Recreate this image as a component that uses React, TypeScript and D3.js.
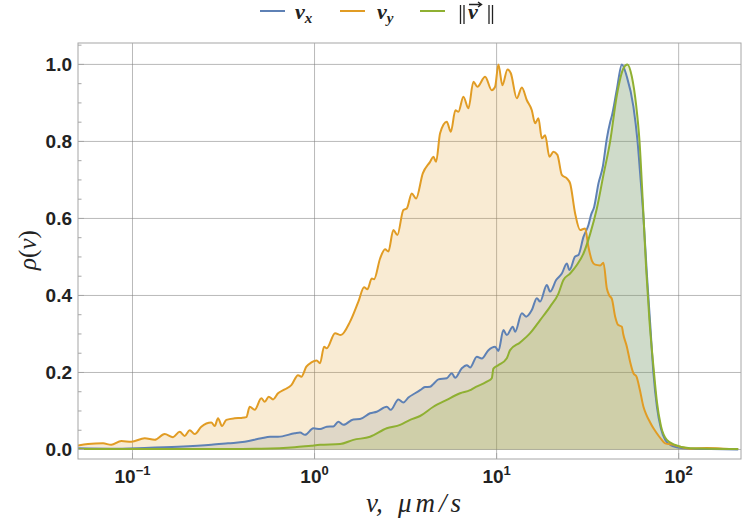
import React from "react";
import * as d3 from "d3";

// Normalised speed distributions ρ(v), v in μm/s (log axis)
const vxV = [0.0502, 0.0764, 0.1167, 0.1778, 0.271, 0.3347, 0.4135, 0.5101, 0.5695, 0.6301, 0.7783, 0.8324, 0.8868, 0.9849, 1.072, 1.167, 1.268, 1.351, 1.439, 1.634, 1.778, 2.018, 2.196, 2.493, 2.622, 2.887, 3.075, 3.277, 3.566, 3.799, 4.047, 4.312, 4.496, 4.787, 5.326, 5.674, 5.916, 6.439, 6.86, 7.152, 7.784, 8.293, 9.016, 9.813, 10.23, 10.9, 11.38, 12.27, 12.64, 13.76, 14.53, 15.61, 16.63, 17.34, 18.87, 19.68, 21.23, 22.82, 24.31, 25.12, 27.0, 28.15, 30.0, 31.95, 33.05, 34.34, 36.26, 38.33, 40.33, 42.04, 42.96, 45.76, 48.75, 51.93, 56.45, 59.37, 61.43, 64.06, 66.87, 69.72, 72.7, 76.0, 79.85, 84.31, 90.0, 97.75, 115.7, 150.0, 212.3];
const vxRho = [0.003, 0.002, 0.004, 0.007, 0.012, 0.016, 0.02, 0.029, 0.033, 0.033, 0.042, 0.044, 0.038, 0.055, 0.053, 0.059, 0.06, 0.072, 0.064, 0.078, 0.079, 0.094, 0.098, 0.111, 0.103, 0.13, 0.122, 0.135, 0.146, 0.154, 0.162, 0.163, 0.17, 0.182, 0.185, 0.198, 0.186, 0.211, 0.219, 0.213, 0.241, 0.236, 0.258, 0.267, 0.256, 0.31, 0.297, 0.319, 0.306, 0.354, 0.345, 0.362, 0.393, 0.384, 0.427, 0.41, 0.44, 0.457, 0.483, 0.466, 0.501, 0.505, 0.552, 0.583, 0.61, 0.63, 0.691, 0.735, 0.808, 0.85, 0.866, 0.935, 1.0, 0.968, 0.89, 0.803, 0.717, 0.604, 0.457, 0.328, 0.198, 0.11, 0.055, 0.025, 0.012, 0.006, 0.002, 0.001, 0.0];

const vyV = [0.0502, 0.0569, 0.0689, 0.0764, 0.0868, 0.0985, 0.1167, 0.1324, 0.1502, 0.1669, 0.1817, 0.1936, 0.2062, 0.2197, 0.2388, 0.271, 0.2829, 0.295, 0.3102, 0.3277, 0.3642, 0.3961, 0.422, 0.4406, 0.4692, 0.5101, 0.5325, 0.5603, 0.5916, 0.6301, 0.6858, 0.7457, 0.8116, 0.8462, 0.9014, 0.9603, 1.028, 1.072, 1.128, 1.167, 1.296, 1.393, 1.567, 1.741, 1.871, 1.951, 2.062, 2.123, 2.291, 2.44, 2.544, 2.71, 2.851, 3.075, 3.211, 3.42, 3.612, 3.932, 4.312, 4.496, 4.652, 4.893, 5.326, 5.603, 5.938, 6.168, 6.572, 7.0, 7.458, 7.845, 8.647, 9.41, 9.813, 10.23, 10.76, 11.47, 11.97, 12.91, 13.76, 14.66, 15.61, 16.27, 16.97, 17.72, 18.48, 19.51, 20.52, 21.58, 22.82, 24.31, 25.34, 27.0, 28.76, 30.64, 31.95, 33.4, 34.77, 37.05, 38.63, 40.33, 41.6, 42.96, 44.8, 46.6, 48.75, 49.6, 51.93, 54.1, 56.45, 58.6, 61.2, 64.06, 66.5, 69.4, 72.7, 75.9, 79.2, 84.31, 93.63, 101.9, 115.7, 142.9, 175.6, 212.3];
const vyRho = [0.01, 0.014, 0.016, 0.012, 0.022, 0.02, 0.029, 0.025, 0.04, 0.032, 0.046, 0.035, 0.05, 0.04, 0.059, 0.07, 0.061, 0.081, 0.061, 0.077, 0.081, 0.082, 0.084, 0.111, 0.103, 0.133, 0.124, 0.137, 0.13, 0.146, 0.156, 0.167, 0.193, 0.189, 0.215, 0.226, 0.231, 0.224, 0.267, 0.263, 0.302, 0.297, 0.332, 0.384, 0.421, 0.416, 0.444, 0.442, 0.496, 0.52, 0.514, 0.57, 0.557, 0.622, 0.626, 0.665, 0.652, 0.717, 0.747, 0.76, 0.747, 0.821, 0.851, 0.825, 0.881, 0.877, 0.916, 0.886, 0.955, 0.942, 0.968, 0.933, 0.942, 1.0, 0.946, 0.987, 0.977, 0.912, 0.94, 0.907, 0.881, 0.847, 0.86, 0.808, 0.816, 0.76, 0.773, 0.765, 0.713, 0.704, 0.691, 0.613, 0.57, 0.574, 0.526, 0.49, 0.48, 0.478, 0.485, 0.418, 0.4, 0.391, 0.345, 0.323, 0.319, 0.3, 0.267, 0.228, 0.198, 0.19, 0.155, 0.111, 0.09, 0.072, 0.055, 0.042, 0.03, 0.016, 0.012, 0.007, 0.002, 0.004, 0.002, 0.001];

const vnV = [0.0502, 0.1778, 0.3347, 0.5101, 0.7783, 0.9603, 1.072, 1.381, 1.634, 2.018, 2.493, 2.95, 3.348, 3.799, 4.496, 5.326, 6.302, 7.152, 7.458, 8.835, 9.41, 9.603, 10.23, 11.38, 11.86, 13.46, 15.28, 17.34, 19.68, 21.86, 23.28, 25.34, 27.59, 30.0, 32.65, 35.53, 38.63, 42.04, 45.76, 49.75, 52.33, 55.33, 58.41, 60.9, 63.58, 66.28, 69.11, 72.7, 75.9, 79.85, 86.13, 95.68, 115.7, 212.3];
const vnRho = [0.001, 0.001, 0.001, 0.002, 0.006, 0.01, 0.012, 0.014, 0.025, 0.033, 0.055, 0.064, 0.077, 0.087, 0.111, 0.129, 0.146, 0.154, 0.159, 0.176, 0.185, 0.21, 0.219, 0.237, 0.258, 0.278, 0.302, 0.336, 0.371, 0.405, 0.44, 0.457, 0.479, 0.509, 0.56, 0.626, 0.713, 0.8, 0.92, 0.99, 1.0, 0.968, 0.894, 0.803, 0.64, 0.47, 0.335, 0.215, 0.125, 0.062, 0.025, 0.012, 0.003, 0.001];

const yTicks = [0, 0.2, 0.4, 0.6, 0.8, 1.0];
const yMinor = [0.05, 0.1, 0.15, 0.25, 0.3, 0.35, 0.45, 0.5, 0.55, 0.65, 0.7, 0.75, 0.85, 0.9, 0.95, 1.05];
const xTicks = [0.1, 1, 10, 100];
const xExp = ["\u22121", "0", "1", "2"];

const C_VX = "#5E81B5";
const C_VY = "#E19C24";
const C_VN = "#8FB032";

const L = 78, R = 741, T = 43, B = 459;

export default function App() {
  const x = d3.scaleLog().domain([0.0502, 220]).range([L, R]);
  const y = d3.scaleLinear().domain([-0.0247, 1.0556]).range([B, T]);

  const series = [
    { v: vxV, r: vxRho, c: C_VX },
    { v: vyV, r: vyRho, c: C_VY },
    { v: vnV, r: vnRho, c: C_VN },
  ];

  const line = d3
    .line<[number, number]>()
    .x((d) => x(d[0]))
    .y((d) => y(d[1]))
    .curve(d3.curveMonotoneX);
  const area = d3
    .area<[number, number]>()
    .x((d) => x(d[0]))
    .y0(y(0))
    .y1((d) => y(d[1]))
    .curve(d3.curveMonotoneX);

  const pts = series.map((s) => s.v.map((v, i) => [v, s.r[i]] as [number, number]));

  const sans = "'Liberation Sans', Arial, sans-serif";
  const serif = "'Liberation Serif', 'Times New Roman', serif";

  return (
    <svg width={745} height={524} style={{ position: "absolute", left: 0, top: 0, background: "#fff" }}>
      <defs>
        <clipPath id="plotClip">
          <rect x={L} y={T} width={R - L} height={B - T} />
        </clipPath>
      </defs>
      {/* grid */}
      {yTicks.map((t) => (
        <line key={"gy" + t} x1={L} x2={R} y1={y(t)} y2={y(t)} stroke="#808080" strokeOpacity={0.55} strokeWidth={1} />
      ))}
      {xTicks.map((t) => (
        <line key={"gx" + t} x1={x(t)} x2={x(t)} y1={T} y2={B} stroke="#808080" strokeOpacity={0.55} strokeWidth={1} />
      ))}
      {/* filled curves */}
      <g clipPath="url(#plotClip)">
        {pts.map((p, i) => (
          <path key={"a" + i} d={area(p) || ""} fill={series[i].c} fillOpacity={0.2} stroke="none" />
        ))}
        {pts.map((p, i) => (
          <path key={"l" + i} d={line(p) || ""} fill="none" stroke={series[i].c} strokeWidth={2} strokeLinejoin="round" />
        ))}
      </g>
      {/* frame */}
      <rect x={L} y={T} width={R - L} height={B - T} fill="none" stroke="#a6a6a6" strokeWidth={1} />
      {/* y ticks */}
      {yTicks.map((t) => (
        <line key={"ty" + t} x1={L} x2={L + 6} y1={y(t)} y2={y(t)} stroke="#a6a6a6" />
      ))}
      {yMinor.map((t) => (
        <line key={"my" + t} x1={L} x2={L + 3.5} y1={y(t)} y2={y(t)} stroke="#a6a6a6" />
      ))}
      {xTicks.map((t) => (
        <line key={"tx" + t} x1={x(t)} x2={x(t)} y1={B} y2={B - 6} stroke="#a6a6a6" />
      ))}
      {/* y tick labels */}
      {yTicks.map((t) => (
        <text key={"yl" + t} x={72} y={y(t) + 6.8} textAnchor="end" fontFamily={sans} fontWeight="bold" fontSize={19} fill="#222">
          {t.toFixed(1)}
        </text>
      ))}
      {/* x tick labels */}
      {xTicks.map((t, i) => (
        <text key={"xl" + t} x={x(t)} y={483} textAnchor="middle" fontFamily={sans} fontWeight="bold" fontSize={19} fill="#222">
          10
          <tspan dy={-8} fontSize={13}>
            {xExp[i]}
          </tspan>
        </text>
      ))}
      {/* axis titles */}
      <text transform="translate(36,250) rotate(-90)" textAnchor="middle" fontFamily={serif} fontSize={25} fill="#222">
        <tspan fontStyle="italic">ρ</tspan>
        <tspan>(</tspan>
        <tspan fontStyle="italic">v</tspan>
        <tspan>)</tspan>
      </text>
      <text x={366} y={512} fontFamily={serif} fontStyle="italic" fontSize={27} fill="#222">
        <tspan>v,</tspan>
        <tspan x={398} letterSpacing={4}>μm/s</tspan>
      </text>
      {/* legend */}
      <g>
        <line x1={260} x2={285} y1={11} y2={11} stroke={C_VX} strokeWidth={2} />
        <text x={295} y={19} fontFamily={serif} fontStyle="italic" fontWeight="bold" fontSize={22} fill="#222">
          v<tspan fontSize={15} dy={4}>x</tspan>
        </text>
        <line x1={340} x2={365} y1={11} y2={11} stroke={C_VY} strokeWidth={2} />
        <text x={377} y={19} fontFamily={serif} fontStyle="italic" fontWeight="bold" fontSize={22} fill="#222">
          v<tspan fontSize={15} dy={4}>y</tspan>
        </text>
        <line x1={420} x2={445} y1={11} y2={11} stroke={C_VN} strokeWidth={2} />
        <path d="M460.5,5 V24 M464,5 V24 M489,5 V24 M492.5,5 V24" fill="none" stroke="#222" strokeWidth={1.3} />
        <text x={468} y={19} fontFamily={serif} fontStyle="italic" fontWeight="bold" fontSize={22} fill="#222">v</text>
        <path d="M469,4.5 L481,4.5 M478,2 L481.5,4.5 L478,7" fill="none" stroke="#222" strokeWidth={1.4} />
      </g>
    </svg>
  );
}
